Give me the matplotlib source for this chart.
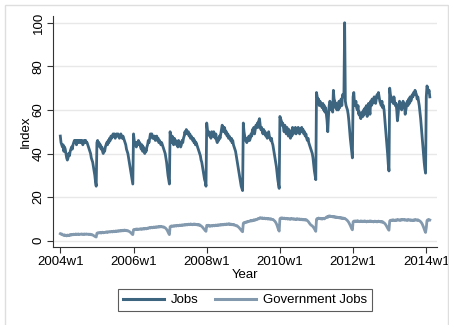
import numpy as np
import matplotlib
matplotlib.use("Agg")
import matplotlib.pyplot as plt
from matplotlib.patches import Rectangle

plt.rcParams['font.family'] = ['Liberation Sans', 'DejaVu Sans']

# weekly index, 2004w1 = 0 (52 weeks per year, Stata style)
jobs_2004 = [48, 45, 44, 43, 44, 41, 43, 42, 40, 38,
             37, 38, 40, 39, 41, 42, 43, 42, 44, 45,
             46, 45, 46, 44, 46, 45, 46, 46, 45, 46,
             45, 46, 44, 45, 46, 45, 46, 45,
             45, 44, 43, 42, 41, 40, 38, 37, 36, 34, 32, 30, 27, 25]
jobs_2005 = [45, 46, 44, 45, 43, 44, 42, 43, 41, 40,
             42, 41, 43, 44, 45, 44, 46, 45, 47, 46,
             48, 47, 48, 49, 48, 49, 47, 48, 49, 48,
             49, 48, 47, 48, 49, 48, 47, 48, 47, 46,
             45, 44, 42, 41, 40, 38, 36, 34, 32, 30, 28, 26]
jobs_2006 = [49, 46, 44, 45, 43, 45, 44, 46, 44, 45,
             43, 42, 44, 41, 43, 42, 40, 42, 41, 43,
             44, 46, 45, 47, 49, 48, 49, 47, 48, 47,
             48, 46, 47, 48, 46, 47, 45, 46, 45, 44,
             45, 44, 43, 42, 41, 40, 38, 36, 33, 30, 28, 26]
jobs_2007 = [50, 47, 45, 48, 46, 44, 47, 45, 46, 44,
             45, 43, 46, 44, 45, 43, 44, 46, 45, 47,
             48, 50, 49, 51, 50, 49, 50, 48, 49, 47,
             48, 47, 46, 47, 45, 46, 44, 45, 44, 43,
             42, 41, 40, 39, 37, 36, 34, 32, 30, 28, 27, 25]
jobs_2008 = [54, 51, 49, 50, 48, 49, 47, 50, 49, 48,
             50, 48, 47, 49, 46, 45, 47, 46, 48, 47,
             49, 51, 53, 52, 50, 52, 51, 49, 50, 48,
             49, 47, 48, 47, 46, 47, 45, 46, 44, 43,
             42, 41, 39, 37, 35, 33, 31, 29, 27, 25, 24, 23]
jobs_2009 = [54, 50, 48, 46, 47, 45, 47, 46, 48, 46,
             47, 49, 48, 51, 50, 52, 49, 51, 53, 52,
             54, 52, 55, 56, 53, 51, 52, 50, 49, 51,
             49, 50, 48, 49, 47, 48, 50, 48, 47, 46,
             47, 45, 44, 42, 40, 38, 36, 34, 31, 28, 26, 24]
jobs_2010 = [57, 56, 55, 53, 54, 52, 50, 53, 51, 49,
             52, 50, 48, 51, 49, 47, 50, 48, 52, 49,
             51, 50, 52, 49, 51, 50, 52, 51, 49, 50,
             51, 52, 50, 51, 49, 50, 48, 49, 47, 46,
             47, 45, 44, 43, 42, 41, 40, 38, 35, 32, 30, 28]
jobs_2011 = [68, 66, 64, 65, 62, 64, 63, 62, 61, 63,
             60, 62, 59, 61, 58, 55, 50, 57, 62, 64,
             63, 60, 61, 59, 69, 65, 64, 61, 63, 60,
             62, 60, 64, 61, 63, 65, 62, 67, 66, 68,
             100, 64, 62, 61, 60, 58, 55, 51, 47, 44, 41, 38]
jobs_2012 = [66, 68, 63, 62, 64, 61, 60, 62, 58, 59,
             57, 56, 58, 59, 57, 60, 58, 61, 59, 62,
             57, 60, 63, 61, 58, 64, 62, 65, 63, 64,
             66, 64, 63, 65, 67, 66, 68, 66, 64, 63,
             62, 64, 61, 62, 60, 56, 52, 48, 44, 40, 35, 32]
jobs_2013 = [70, 67, 66, 64, 65, 63, 66, 64, 62, 63,
             60, 55, 58, 62, 64, 61, 63, 60, 62, 64,
             61, 63, 58, 60, 62, 64, 62, 65, 63, 66,
             64, 65, 67, 66, 68, 67, 69, 68, 67, 65,
             66, 64, 62, 59, 56, 52, 48, 44, 40, 36, 33, 31]
jobs_2014 = [66, 71, 70, 68, 69, 66]

gov_2004 = [3.2, 3.0, 3.1, 2.8, 2.6, 2.4, 2.7, 2.3, 2.5, 2.2,
            2.6, 2.4, 2.3, 2.7, 2.5, 2.8, 2.6, 2.9, 2.7, 3.0,
            2.8, 2.9, 3.1, 2.8, 3.0, 2.9, 3.1, 2.8, 2.9, 3.0,
            3.1, 2.9, 3.0, 2.8, 3.1, 3.0, 2.9, 3.1, 3.0, 2.9,
            3.0, 2.8, 3.0, 2.9, 2.7, 2.8, 2.6, 2.4, 2.2, 2.0, 1.8, 1.7]
gov_2005 = [3.4, 3.6, 3.5, 3.7, 3.6, 3.8, 3.5, 3.7, 3.9, 3.6,
            3.8, 3.7, 3.9, 4.0, 3.8, 4.1, 3.9, 4.0, 4.2, 4.0,
            4.1, 4.3, 4.0, 4.2, 4.4, 4.1, 4.3, 4.5, 4.2, 4.4,
            4.6, 4.3, 4.5, 4.7, 4.4, 4.6, 4.8, 4.5, 4.7, 4.9,
            4.6, 4.8, 4.7, 4.5, 4.6, 4.4, 4.2, 4.0, 3.7, 3.4, 3.0, 2.8]
gov_2006 = [5.0, 5.2, 5.1, 5.3, 5.2, 5.4, 5.1, 5.3, 5.2, 5.4,
            5.3, 5.5, 5.2, 5.4, 5.6, 5.3, 5.5, 5.7, 5.4, 5.6,
            5.8, 5.6, 5.9, 6.1, 5.8, 6.0, 6.2, 5.9, 6.1, 6.3,
            6.0, 6.2, 6.4, 6.1, 6.3, 6.5, 6.2, 6.4, 6.6, 6.3,
            6.5, 6.4, 6.2, 6.3, 6.1, 5.9, 5.6, 5.2, 4.7, 4.0, 3.3, 2.8]
gov_2007 = [6.4, 6.6, 6.8, 6.5, 6.7, 6.9, 6.6, 6.8, 7.0, 6.7,
            6.9, 7.1, 6.8, 7.0, 7.2, 6.9, 7.1, 7.3, 7.0, 7.2,
            7.4, 7.1, 7.3, 7.5, 7.2, 7.4, 7.6, 7.3, 7.5, 7.7,
            7.4, 7.6, 7.3, 7.5, 7.7, 7.4, 7.6, 7.3, 7.5, 7.2,
            7.4, 7.1, 7.3, 7.0, 6.8, 6.5, 6.2, 5.8, 5.4, 5.0, 4.6, 4.3]
gov_2008 = [7.0, 6.8, 7.1, 6.7, 6.9, 6.6, 6.8, 7.0, 6.7, 6.9,
            7.1, 6.8, 7.0, 7.2, 6.9, 7.1, 7.3, 7.0, 7.2, 7.4,
            7.1, 7.3, 7.5, 7.2, 7.4, 7.6, 7.3, 7.5, 7.7, 7.4,
            7.6, 7.8, 7.5, 7.7, 7.4, 7.6, 7.3, 7.5, 7.2, 7.4,
            7.1, 7.0, 6.8, 6.9, 6.6, 6.3, 6.0, 5.6, 5.2, 4.8, 4.4, 4.1]
gov_2009 = [8.0, 8.3, 8.2, 8.5, 8.4, 8.7, 8.6, 8.9, 8.8, 9.0,
            9.2, 9.0, 9.3, 9.1, 9.4, 9.6, 9.3, 9.5, 9.8, 9.6,
            9.9, 10.2, 10.0, 10.3, 10.6, 10.4, 10.2, 10.5, 10.3, 10.1,
            10.4, 10.2, 10.0, 10.3, 10.1, 9.9, 10.2, 10.0, 9.8, 10.1,
            9.9, 9.7, 9.8, 9.5, 9.2, 8.9, 8.4, 7.8, 7.0, 6.0, 5.0, 4.4]
gov_2010 = [10.0, 10.4, 10.2, 10.5, 10.3, 10.1, 10.4, 10.2, 10.0, 10.3,
            10.1, 9.9, 10.2, 10.0, 9.8, 10.1, 9.9, 10.2, 10.0, 9.8,
            10.1, 9.9, 9.7, 10.0, 9.8, 10.1, 9.9, 9.7, 10.0, 9.8,
            9.6, 9.9, 9.7, 9.5, 9.8, 9.6, 9.4, 9.7, 9.5, 9.2,
            8.9, 8.5, 8.0, 7.6, 7.2, 7.0, 6.8, 6.4, 6.0, 5.4, 4.8, 4.3]
gov_2011 = [9.8, 10.2, 10.0, 10.4, 10.1, 10.3, 10.0, 10.2, 9.9, 10.1,
            10.3, 10.0, 10.2, 10.5, 10.8, 11.0, 10.7, 11.2, 11.4, 11.1,
            11.3, 11.0, 11.2, 10.9, 11.1, 10.8, 11.0, 10.7, 10.9, 10.6,
            10.8, 10.5, 10.7, 10.4, 10.6, 10.3, 10.5, 10.2, 10.4, 10.1,
            10.3, 10.0, 9.8, 9.5, 9.2, 8.8, 8.3, 7.7, 7.0, 6.2, 5.5, 5.0]
gov_2012 = [8.6, 9.0, 8.8, 9.1, 8.7, 8.9, 9.2, 8.8, 9.0, 8.7,
            8.9, 9.1, 8.8, 9.0, 8.7, 8.9, 9.1, 8.8, 9.0, 8.6,
            8.8, 9.0, 8.7, 8.9, 9.1, 8.8, 9.0, 8.7, 8.9, 8.6,
            8.8, 9.0, 8.7, 8.9, 8.6, 8.8, 9.0, 8.7, 8.9, 8.6,
            8.8, 8.5, 8.7, 8.4, 8.2, 7.9, 7.5, 7.0, 6.4, 5.8, 5.2, 4.8]
gov_2013 = [9.0, 9.4, 9.2, 9.5, 9.3, 9.6, 9.4, 9.2, 9.5, 9.3,
            9.6, 9.4, 9.7, 9.5, 9.3, 9.6, 9.4, 9.7, 9.5, 9.8,
            9.6, 9.4, 9.7, 9.5, 9.3, 9.6, 9.4, 9.7, 9.5, 9.3,
            9.6, 9.4, 9.2, 9.5, 9.3, 9.6, 9.4, 9.7, 9.5, 9.3,
            9.6, 9.4, 9.2, 9.0, 8.7, 8.3, 7.8, 7.1, 6.3, 5.4, 4.5, 3.8]
gov_2014 = [6.0, 9.2, 9.6, 9.4, 9.7, 9.5]

tick_pos = [0, 104, 208, 312, 416, 520]
tick_labels = ['2004w1', '2006w1', '2008w1', '2010w1', '2012w1', '2014w1']

jobs = (jobs_2004 + jobs_2005 + jobs_2006 + jobs_2007 + jobs_2008 + jobs_2009
        + jobs_2010 + jobs_2011 + jobs_2012 + jobs_2013 + jobs_2014)
gov = (gov_2004 + gov_2005 + gov_2006 + gov_2007 + gov_2008 + gov_2009
       + gov_2010 + gov_2011 + gov_2012 + gov_2013 + gov_2014)
weeks = np.arange(len(jobs))

W, H = 449, 325
fig = plt.figure(figsize=(W / 100, H / 100), dpi=100)
fig.patch.set_facecolor('white')
# light outer frame like the Stata graph region
fig.add_artist(Rectangle((5 / W, -0.05), 443 / W, 1.05 - 5 / H, transform=fig.transFigure,
                         fill=False, edgecolor='#dedede', linewidth=1.0))

ax = fig.add_axes([53 / W, 1 - 247.3 / H, (436.7 - 53) / W, (247.3 - 16) / H])
c_jobs = '#3d6580'
c_gov = '#8399ae'
ax.plot(weeks, jobs, color=c_jobs, lw=2.0, label='Jobs', zorder=3)
ax.plot(weeks, gov, color=c_gov, lw=2.0, label='Government Jobs', zorder=3)

ax.set_xlim(-10.4, 534.8)
ax.set_ylim(-3.03, 103.1)
ax.set_yticks([0, 20, 40, 60, 80, 100])
ax.set_xticks(tick_pos)
ax.set_xticklabels(tick_labels)
for t in ax.get_yticklabels():
    t.set_rotation(90)
    t.set_va('center')
ax.tick_params(labelsize=9.5, length=4, width=0.8, color='#333333', pad=2)
ax.yaxis.grid(True, color='#e8e8e8', lw=1.0)
ax.set_axisbelow(True)
for s in ['top', 'right']:
    ax.spines[s].set_visible(False)
for s in ['left', 'bottom']:
    ax.spines[s].set_color('#333333')
    ax.spines[s].set_linewidth(0.8)
ax.set_xlabel('Year', fontsize=9.5, labelpad=1)
ax.set_ylabel('Index', fontsize=9.5, labelpad=1)

leg = fig.legend(loc='center', bbox_to_anchor=(245 / W, 1 - 300 / H), ncol=2,
                 fontsize=9.5, frameon=True, fancybox=False, edgecolor='#333333',
                 handlelength=3.1, handletextpad=0.5, columnspacing=1.3,
                 borderpad=0.4, borderaxespad=0)
leg.get_frame().set_linewidth(0.8)
for l in leg.get_lines():
    l.set_linewidth(2.2)

fig.savefig('out.png', dpi=100)
